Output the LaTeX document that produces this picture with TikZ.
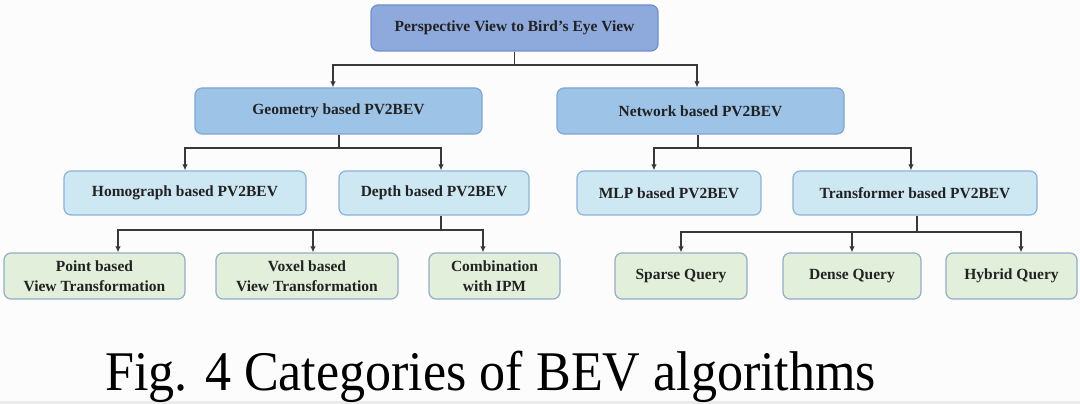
\documentclass[tikz,border=0pt]{standalone}
\usepackage{fontspec}
\usepackage{graphicx}
\setmainfont{Liberation Serif}
\usetikzlibrary{arrows.meta}
\definecolor{bgc}{HTML}{FCFCFC}
\definecolor{rootfill}{HTML}{8EA9DB}
\definecolor{rootdraw}{HTML}{7090CC}
\definecolor{lvtwofill}{HTML}{9DC3E6}
\definecolor{lvtwodraw}{HTML}{7FA7D4}
\definecolor{lvthreefill}{HTML}{CDE8F3}
\definecolor{lvthreedraw}{HTML}{8BB2DA}
\definecolor{lvfourfill}{HTML}{E2EFDA}
\definecolor{lvfourdraw}{HTML}{93ACCB}
\definecolor{linec}{HTML}{383838}
\definecolor{txtc}{HTML}{222222}
\tikzset{
  boxbase/.style={rectangle, rounded corners=7pt, line width=1.2pt, align=center,
    inner sep=0pt, text=txtc, font=\fontsize{15.5}{20}\selectfont\bfseries},
  rootbox/.style={boxbase, fill=rootfill, draw=rootdraw},
  lvtwo/.style={boxbase, fill=lvtwofill, draw=lvtwodraw},
  lvthree/.style={boxbase, fill=lvthreefill, draw=lvthreedraw},
  lvfour/.style={boxbase, fill=lvfourfill, draw=lvfourdraw},
  conn/.style={draw=linec, line width=1.5pt},
  arr/.style={conn, -{Latex[length=6pt,width=5.5pt]}}
}
\begin{document}
\begin{tikzpicture}[x=1pt,y=-1pt]
\fill[bgc] (0,0) rectangle (1080,404);
\fill[black!8] (0,401) rectangle (1080,404);
\useasboundingbox (0,0) rectangle (1080,404);

% level 1
\node[rootbox, minimum width=287pt, minimum height=46pt] (root) at (514.5,28) {Perspective View to Bird's Eye View};
% level 2
\node[lvtwo, minimum width=287pt, minimum height=46pt] (geo) at (338.5,111) {Geometry based PV2BEV};
\node[lvtwo, minimum width=287pt, minimum height=46pt] (net) at (700.5,111) {Network based PV2BEV};
% level 3
\node[lvthree, minimum width=242pt, minimum height=44pt] (homo) at (185,193) {Homograph based PV2BEV};
\node[lvthree, minimum width=190pt, minimum height=44pt] (depth) at (434,193) {Depth based PV2BEV};
\node[lvthree, minimum width=184pt, minimum height=44pt] (mlp) at (669,193) {MLP based PV2BEV};
\node[lvthree, minimum width=244pt, minimum height=44pt] (trans) at (915,193) {Transformer based PV2BEV};
% level 4
\node[lvfour, minimum width=181pt, minimum height=46pt] (point) at (94.5,276) {Point based\\View Transformation};
\node[lvfour, minimum width=182pt, minimum height=46pt] (voxel) at (307,276) {Voxel based\\View Transformation};
\node[lvfour, minimum width=131pt, minimum height=46pt] (comb) at (494.5,276) {Combination\\with IPM};
\node[lvfour, minimum width=132pt, minimum height=46pt] (sparse) at (681,276) {Sparse Query};
\node[lvfour, minimum width=138pt, minimum height=46pt] (dense) at (852,276) {Dense Query};
\node[lvfour, minimum width=131pt, minimum height=46pt] (hybrid) at (1011.5,276) {Hybrid Query};

% bus coordinates
\coordinate (b1) at (514.5,65);
\coordinate (b2) at (339,148);
\coordinate (b3) at (698,148);
\coordinate (b4) at (441,230);
\coordinate (b5) at (917,232);

% connectors
\draw[conn] (root.south) -- (b1);
\draw[arr] (b1) -| (333,0 |- geo.north);
\draw[arr] (b1) -| (697,0 |- net.north);

\draw[conn] (geo.south -| b2) -- (b2);
\draw[arr] (b2) -| (185,0 |- homo.north);
\draw[arr] (b2) -| (441,0 |- depth.north);

\draw[conn] (net.south -| b3) -- (b3);
\draw[arr] (b3) -| (654,0 |- mlp.north);
\draw[arr] (b3) -| (911,0 |- trans.north);

\draw[conn] (depth.south -| b4) -- (b4);
\draw[arr] (b4) -| (118,0 |- point.north);
\draw[arr] (b4) -| (313,0 |- voxel.north);
\draw[arr] (b4) -| (483,0 |- comb.north);

\draw[conn] (trans.south -| b5) -- (b5);
\draw[arr] (b5) -| (681,0 |- sparse.north);
\draw[arr] (b5) -| (852,0 |- dense.north);
\draw[arr] (b5) -| (1021,0 |- hybrid.north);

% caption
\node[anchor=base west, inner sep=0pt, text=black] (cap) at (105,390)
  {\scalebox{0.93}[1]{\fontsize{56}{60}\selectfont Fig. 4 Categories of BEV algorithms}};
\end{tikzpicture}
\end{document}
